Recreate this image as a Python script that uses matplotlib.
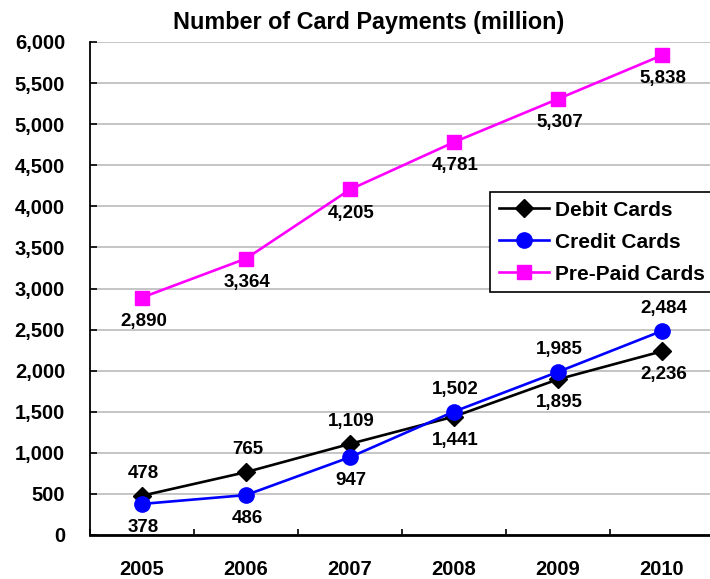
import matplotlib
matplotlib.use("Agg")
import matplotlib.pyplot as plt
from matplotlib.ticker import FuncFormatter, FixedLocator

years = ["2005", "2006", "2007", "2008", "2009", "2010"]
debit = [478, 765, 1109, 1441, 1895, 2236]
credit = [378, 486, 947, 1502, 1985, 2484]
prepaid = [2890, 3364, 4205, 4781, 5307, 5838]
debit_pos = ["above", "above", "above", "below", "below", "below"]
credit_pos = ["below", "below", "below", "above", "above", "above"]
prepaid_pos = ["below"] * 6

plt.rcParams['font.family'] = ['Liberation Sans', 'DejaVu Sans']
plt.rcParams['font.weight'] = 'bold'

W, H = 710, 579
fig = plt.figure(figsize=(W / 100, H / 100), dpi=100)
left, right, top, bottom = 90, 714, 42, 535
ax = fig.add_axes([left / W, (H - bottom) / H, (right - left) / W, (bottom - top) / H])

x = list(range(len(years)))
ax.plot(x, debit, color='black', lw=1.9, marker='D', ms=9, label='Debit Cards', zorder=3)
ax.plot(x, credit, color='#0000FF', lw=1.9, marker='o', ms=11, label='Credit Cards', zorder=3)
ax.plot(x, prepaid, color='#FF00FF', lw=1.9, marker='s', ms=10, label='Pre-Paid Cards', zorder=3)

def lab(vals, pos):
    for i, (v, p) in enumerate(zip(vals, pos)):
        dy = 16 if p == "above" else -17
        ax.annotate(f"{v:,}", (i, v), xytext=(1, dy), textcoords='offset points',
                    ha='center', va='center', fontsize=13.5, fontweight='bold')

lab(debit, debit_pos)
lab(credit, credit_pos)
lab(prepaid, prepaid_pos)

ax.set_xlim(-0.5, len(years) - 0.5)
ax.set_ylim(0, 6000)
ax.set_yticks(range(0, 6001, 500))
ax.yaxis.set_major_formatter(FuncFormatter(lambda v, p: f"{int(v):,}"))
ax.set_xticks(x)
ax.set_xticklabels(years)
ax.xaxis.set_minor_locator(FixedLocator([i - 0.5 for i in range(len(years) + 1)]))
ax.tick_params(axis='x', which='major', length=0, pad=18, labelsize=14.5)
ax.tick_params(axis='x', which='minor', length=4, width=1.2, direction='in')
ax.tick_params(axis='y', length=5, width=1.2, direction='in', pad=18, labelsize=14.5)
for t in ax.get_xticklabels() + ax.get_yticklabels():
    t.set_fontweight('bold')

ax.grid(axis='y', color='#C0C0C0', lw=1.3)
ax.set_axisbelow(True)
for s in ['top', 'right']:
    ax.spines[s].set_visible(False)
ax.spines['left'].set_linewidth(1.3)
ax.spines['bottom'].set_linewidth(2)

fig.text(369 / W, 1 - 23 / H, "Number of Card Payments (million)", ha='center', va='center',
         fontsize=16.8, fontweight='bold')

leg = ax.legend(loc='upper left', bbox_to_anchor=((490 - left) / (right - left), (bottom - 192) / (bottom - top)),
                borderaxespad=0, fancybox=False, framealpha=1, edgecolor='black',
                prop={'weight': 'bold', 'size': 15}, handlelength=2.4, labelspacing=0.62,
                borderpad=0.42, handletextpad=0.3)
leg.get_frame().set_linewidth(1.2)

fig.savefig("out.png", dpi=100)
